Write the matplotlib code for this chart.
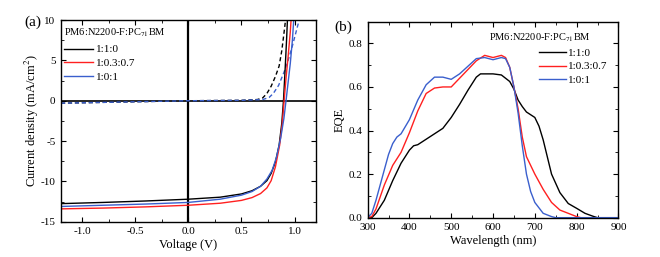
import matplotlib
matplotlib.use('Agg')
import matplotlib.pyplot as plt
from matplotlib.ticker import MultipleLocator

plt.rcParams['font.family'] = ['Liberation Serif', 'DejaVu Serif']
plt.rcParams['mathtext.fontset'] = 'stix'
plt.rcParams['axes.unicode_minus'] = False

# J-V data (light, solid)
v_black = [-1.2, -0.8, -0.4, 0.0, 0.3, 0.5, 0.6, 0.68, 0.74, 0.78, 0.82, 0.855, 0.88, 0.896, 0.91, 0.925, 0.935]
j_black = [-12.75, -12.6, -12.42, -12.2, -11.95, -11.55, -11.15, -10.6, -9.9, -9.0, -7.6, -5.5, -2.8, 0.0, 3.5, 7.5, 10.5]
v_red = [-1.2, -0.8, -0.4, 0.0, 0.3, 0.5, 0.6, 0.68, 0.74, 0.78, 0.82, 0.86, 0.885, 0.902, 0.92, 0.94, 0.96, 0.97]
j_red = [-13.4, -13.3, -13.15, -12.95, -12.7, -12.35, -12.0, -11.5, -10.8, -9.9, -8.2, -5.5, -2.8, 0.0, 2.8, 5.5, 8.5, 10.5]
v_blue = [-1.2, -0.8, -0.4, 0.0, 0.3, 0.5, 0.6, 0.68, 0.74, 0.79, 0.83, 0.87, 0.9, 0.92, 0.94, 0.96, 0.98, 0.995]
j_blue = [-13.1, -12.95, -12.8, -12.6, -12.2, -11.7, -11.25, -10.6, -9.7, -8.6, -7.0, -4.6, -2.2, 0.0, 2.3, 4.6, 7.5, 10.5]

# dark J-V (dashed)
vd_black = [-1.2, -0.6, 0.0, 0.5, 0.65, 0.7, 0.74, 0.78, 0.82, 0.855, 0.88, 0.9, 0.92]
jd_black = [-0.3, -0.15, 0.0, 0.05, 0.15, 0.35, 0.9, 1.8, 3.0, 4.3, 6.2, 8.3, 10.5]
vd_blue = [-1.2, -0.6, 0.0, 0.5, 0.7, 0.76, 0.8, 0.85, 0.9, 0.94, 0.98, 1.01, 1.04, 1.06]
jd_blue = [-0.3, -0.15, 0.0, 0.05, 0.15, 0.4, 0.9, 1.9, 3.5, 5.0, 6.8, 8.3, 9.8, 10.5]

# EQE data
wl_black = [300, 310, 320, 340, 360, 380, 400, 410, 420, 440, 460, 480, 500, 520, 540, 560, 570, 600, 620, 640, 650, 660, 670, 680, 700, 710, 720, 740, 760, 780, 800, 820, 840, 850, 900]
eqe_black = [0.0, 0.0, 0.02, 0.08, 0.17, 0.25, 0.31, 0.33, 0.335, 0.36, 0.385, 0.41, 0.46, 0.52, 0.585, 0.645, 0.66, 0.66, 0.655, 0.625, 0.59, 0.54, 0.51, 0.485, 0.46, 0.42, 0.357, 0.2, 0.115, 0.065, 0.043, 0.02, 0.006, 0.0, 0.0]
wl_red = [300, 310, 320, 340, 360, 380, 400, 420, 440, 460, 480, 500, 520, 540, 560, 580, 600, 620, 630, 640, 650, 660, 670, 680, 700, 720, 740, 760, 780, 800, 810, 900]
eqe_red = [0.0, 0.005, 0.04, 0.15, 0.24, 0.3, 0.39, 0.49, 0.57, 0.595, 0.6, 0.6, 0.64, 0.68, 0.72, 0.745, 0.735, 0.745, 0.735, 0.69, 0.6, 0.5, 0.37, 0.28, 0.2, 0.13, 0.07, 0.035, 0.02, 0.005, 0.0, 0.0]
wl_blue = [300, 310, 320, 340, 350, 360, 370, 380, 400, 420, 440, 460, 480, 500, 520, 540, 560, 580, 600, 620, 630, 640, 650, 660, 670, 680, 690, 700, 720, 740, 750, 900]
eqe_blue = [0.0, 0.02, 0.08, 0.22, 0.29, 0.34, 0.37, 0.385, 0.45, 0.54, 0.61, 0.645, 0.645, 0.635, 0.66, 0.695, 0.73, 0.735, 0.725, 0.735, 0.73, 0.69, 0.6, 0.48, 0.33, 0.2, 0.12, 0.07, 0.02, 0.005, 0.0, 0.0]

labels = ['1:1:0', '1:0.3:0.7', '1:0:1']
colors = ['black', '#ff2020', '#3a5fcd']
title = 'PM6:N2200-F:PC$_{71}$BM'

fig = plt.figure(figsize=(6.6, 2.57), dpi=100)
ax1 = fig.add_axes([0.0924, 0.137, 0.386, 0.785])
ax2 = fig.add_axes([0.557, 0.153, 0.380, 0.763])

ax1.axhline(0, color='black', lw=1.2, zorder=1)
ax1.axvline(0, color='black', lw=1.6, zorder=1)
ax1.plot(vd_black, jd_black, '--', color=colors[0], lw=1.0, dashes=(3, 2))
ax1.plot(vd_blue, jd_blue, '--', color=colors[2], lw=1.0, dashes=(3, 2))
ax1.plot(v_black, j_black, color=colors[0], lw=1.0, label=labels[0])
ax1.plot(v_red, j_red, color=colors[1], lw=1.0, label=labels[1])
ax1.plot(v_blue, j_blue, color=colors[2], lw=1.0, label=labels[2])
ax1.set_xlim(-1.2, 1.2)
ax1.set_ylim(-15, 10)
ax1.xaxis.set_major_locator(MultipleLocator(0.5))
ax1.xaxis.set_minor_locator(MultipleLocator(0.25))
ax1.yaxis.set_major_locator(MultipleLocator(5))
ax1.yaxis.set_minor_locator(MultipleLocator(2.5))
ax1.set_xlabel('Voltage (V)', fontsize=9, labelpad=2)
ax1.set_ylabel('Current density (mA/cm$^2$)', fontsize=9, labelpad=0)
ax1.text(0.01, 0.935, title, transform=ax1.transAxes, fontsize=7.5, va='center', ha='left')
ax1.legend(loc='upper left', bbox_to_anchor=(-0.005, 0.9), frameon=False, fontsize=8,
           handlelength=2.6, handletextpad=0.3, labelspacing=0.35, borderaxespad=0)
fig.text(33 / 660, 1 - 22 / 257, '(a)', fontsize=11, ha='center', va='center')

ax2.plot(wl_black, eqe_black, color=colors[0], lw=1.0, label=labels[0])
ax2.plot(wl_red, eqe_red, color=colors[1], lw=1.0, label=labels[1])
ax2.plot(wl_blue, eqe_blue, color=colors[2], lw=1.0, label=labels[2])
ax2.set_xlim(300, 900)
ax2.set_ylim(0, 0.9)
ax2.xaxis.set_major_locator(MultipleLocator(100))
ax2.xaxis.set_minor_locator(MultipleLocator(50))
ax2.yaxis.set_major_locator(MultipleLocator(0.2))
ax2.yaxis.set_minor_locator(MultipleLocator(0.1))
ax2.set_xlabel('Wavelength (nm)', fontsize=9, labelpad=2)
ax2.set_ylabel('EQE', fontsize=9, labelpad=2)
ax2.text(0.89, 0.92, title, transform=ax2.transAxes, fontsize=7.5, va='center', ha='right')
ax2.legend(loc='upper left', bbox_to_anchor=(0.665, 0.885), frameon=False, fontsize=8,
           handlelength=2.4, handletextpad=0.2, labelspacing=0.3, borderaxespad=0)
fig.text(343 / 660, 1 - 27 / 257, '(b)', fontsize=11, ha='center', va='center')

for ax in (ax1, ax2):
    ax.tick_params(which='both', direction='in', top=True, right=True, labelsize=8, pad=4)
    ax.tick_params(which='major', length=3.5)
    ax.tick_params(which='minor', length=2)
    for s in ax.spines.values():
        s.set_linewidth(1.0)

fig.savefig('out.png', dpi=100)
